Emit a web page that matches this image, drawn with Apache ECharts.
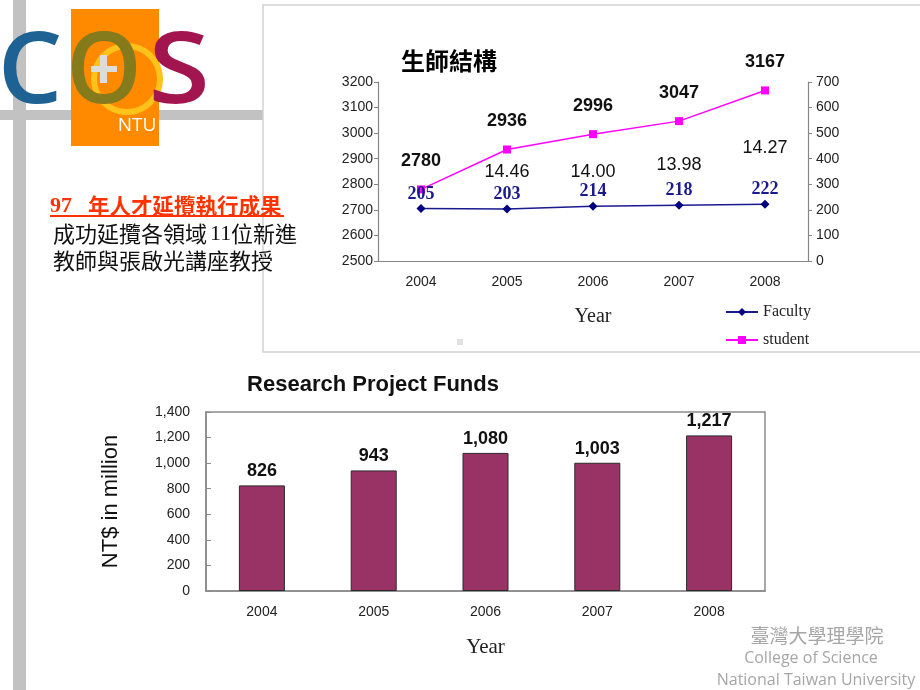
<!DOCTYPE html>
<html><head><meta charset="utf-8">
<script src="https://cdn.jsdelivr.net/npm/echarts@6/dist/echarts.min.js"></script>
<style>html,body{margin:0;padding:0;background:#fff}#c{width:920px;height:690px}</style>
</head><body><div id="c"></div>
<script>
// ---- data ----
const years = ['2004', '2005', '2006', '2007', '2008'];
const students = [2780, 2936, 2996, 3047, 3167];
const faculty = [205, 203, 214, 218, 222];
const ratioYears = ['2005', '2006', '2007', '2008'];
const ratios = ['14.46', '14.00', '13.98', '14.27'];
const ratioAnchor = [2848, 2848, 2875, 2942]; // label anchor heights (left-axis units)
const funds = [826, 943, 1080, 1003, 1217];

const SANS = '"Liberation Sans", Arial, sans-serif';
const SERIF = '"Liberation Serif", "Times New Roman", serif';
const CJK = '"Noto Sans CJK TC", "Noto Sans CJK SC", sans-serif';
const LOGO = '600 100px "Open Sans", sans-serif';
const AX = '#868686';

const chart = echarts.init(document.getElementById('c'), null, {renderer: 'canvas'});

function txt(x, y, text, font, fill, align, valign, extra) {
  return Object.assign({
    type: 'text', x: x, y: y, silent: true,
    style: {text: text, font: font, fill: fill,
      align: align || 'left', verticalAlign: valign || 'middle',
      textAlign: align || 'left', textVerticalAlign: valign || 'middle'}
  }, extra || {});
}

const graphics = [
  // slide guide bars
  {type: 'rect', shape: {x: 13, y: 0, width: 13, height: 690}, style: {fill: '#c2c2c2'}, z: 0, silent: true},
  {type: 'rect', shape: {x: 0, y: 110, width: 263, height: 10}, style: {fill: '#c2c2c2'}, z: 0, silent: true},
  // logo
  {type: 'rect', shape: {x: 71, y: 9, width: 88, height: 137}, style: {fill: '#ff8a00'}, z: 1, silent: true},
  {type: 'circle', shape: {cx: 127, cy: 79, r: 33}, style: {fill: 'none', stroke: '#ffc21a', lineWidth: 6}, z: 2, silent: true},
  txt(30, 75, 'C', LOGO, '#1d6293', 'center', 'middle', {z: 3, scaleX: 1.02}),
  txt(104, 75, 'O', LOGO, '#857a1c', 'center', 'middle', {z: 3, scaleX: 0.96}),
  txt(179, 75, 'S', LOGO, '#a3154f', 'center', 'middle', {z: 3, scaleX: 1.12}),
  {type: 'rect', shape: {x: 91, y: 66, width: 26, height: 6}, style: {fill: '#dcdcdc'}, z: 4, silent: true},
  {type: 'rect', shape: {x: 100, y: 55, width: 7, height: 28}, style: {fill: '#dcdcdc'}, z: 4, silent: true},
  txt(137, 126, 'NTU', '19px "Open Sans", sans-serif', '#ffffff', 'center', 'middle', {z: 4}),
  // left text block
  txt(50, 206, '97', 'bold 22px ' + SERIF, '#ff3300', 'left', 'middle', {z: 5}),
  txt(88, 206, '年人才延攬執行成果', 'bold 21.5px ' + CJK, '#ff3300', 'left', 'middle', {z: 5}),
  {type: 'rect', shape: {x: 50, y: 215, width: 234, height: 2}, style: {fill: '#ff3300'}, z: 5, silent: true},
  txt(53, 234, '成功延攬各領域', '22px ' + CJK, '#111', 'left', 'middle', {z: 5}),
  txt(210, 234, '11', '22px ' + SERIF, '#111', 'left', 'middle', {z: 5}),
  txt(231, 234, '位新進', '22px ' + CJK, '#111', 'left', 'middle', {z: 5}),
  txt(53, 261, '教師與張啟光講座教授', '22px ' + CJK, '#111', 'left', 'middle', {z: 5}),
  // top panel frame
  {type: 'rect', shape: {x: 263, y: 5, width: 700, height: 347}, style: {fill: 'none', stroke: '#d2d2d2', lineWidth: 1.5}, z: 1, silent: true},
  {type: 'rect', shape: {x: 457, y: 339, width: 6, height: 6}, style: {fill: '#e2e2e2'}, z: 1, silent: true},
  txt(449, 61, '生師結構', 'bold 24px ' + CJK, '#000', 'center', 'middle', {z: 5}),
  // bottom chart title
  txt(373, 385, 'Research Project Funds', 'bold 22px ' + SANS, '#111', 'center', 'middle', {z: 5}),
  // footer
  txt(817, 636, '臺灣大學理學院', '19px ' + CJK, '#a6a6a6', 'center', 'middle', {z: 5}),
  txt(811, 658, 'College of Science', '16px "Open Sans", sans-serif', '#a6a6a6', 'center', 'middle', {z: 5}),
  txt(816, 680, 'National Taiwan University', '16px "Open Sans", sans-serif', '#a6a6a6', 'center', 'middle', {z: 5})
];

const option = {
  animation: false,
  backgroundColor: '#ffffff',
  graphic: {elements: graphics},
  legend: {
    data: ['Faculty', 'student'], orient: 'vertical', left: 720, top: 299,
    itemWidth: 32, itemHeight: 10, itemGap: 12,
    textStyle: {fontFamily: SERIF, fontSize: 16, color: '#222'}
  },
  grid: [
    {left: 378, top: 82, width: 430, height: 179},
    {left: 206, top: 412, width: 559, height: 179, show: true, borderColor: '#8a8a8a', borderWidth: 1.5, backgroundColor: 'transparent'}
  ],
  xAxis: [
    {type: 'category', gridIndex: 0, data: years, boundaryGap: true,
      axisLine: {lineStyle: {color: AX, width: 1.2}},
      axisTick: {inside: true, length: 4, lineStyle: {color: AX}},
      axisLabel: {fontFamily: SANS, fontSize: 14, color: '#222', margin: 14},
      name: 'Year', nameLocation: 'middle', nameGap: 46,
      nameTextStyle: {fontFamily: SERIF, fontSize: 20, color: '#222'}},
    {type: 'category', gridIndex: 1, data: years, boundaryGap: true,
      axisLine: {lineStyle: {color: '#8a8a8a', width: 1.5}},
      axisTick: {inside: true, length: 5, lineStyle: {color: '#8a8a8a'}},
      axisLabel: {fontFamily: SANS, fontSize: 14, color: '#222', margin: 14},
      name: 'Year', nameLocation: 'middle', nameGap: 46,
      nameTextStyle: {fontFamily: SERIF, fontSize: 21, color: '#222'}}
  ],
  yAxis: [
    {type: 'value', gridIndex: 0, min: 2500, max: 3200, interval: 100, position: 'left',
      axisLine: {show: true, lineStyle: {color: AX, width: 1.2}},
      axisTick: {show: true, length: 4, lineStyle: {color: AX}},
      splitLine: {show: false},
      axisLabel: {fontFamily: SANS, fontSize: 14, color: '#222', margin: 5, formatter: v => String(v)}},
    {type: 'value', gridIndex: 0, min: 0, max: 700, interval: 100, position: 'right',
      axisLine: {show: true, lineStyle: {color: AX, width: 1.2}},
      axisTick: {show: true, length: 4, lineStyle: {color: AX}},
      splitLine: {show: false},
      axisLabel: {fontFamily: SANS, fontSize: 14, color: '#222', margin: 8, formatter: v => String(v)}},
    {type: 'value', gridIndex: 1, min: 0, max: 1400, interval: 200,
      axisLine: {show: true, lineStyle: {color: '#8a8a8a', width: 1.5}},
      axisTick: {show: true, inside: true, length: 5, lineStyle: {color: '#8a8a8a'}},
      splitLine: {show: false},
      axisLabel: {fontFamily: SANS, fontSize: 14, color: '#222', margin: 16,
        formatter: v => v.toLocaleString('en-US')},
      name: 'NT$ in million', nameLocation: 'middle', nameRotate: 90, nameGap: 84,
      nameTextStyle: {fontFamily: SANS, fontSize: 22, color: '#111'}}
  ],
  series: [
    {name: 'Faculty', type: 'line', xAxisIndex: 0, yAxisIndex: 1, data: faculty,
      color: '#000080', symbol: 'diamond', symbolSize: 9, lineStyle: {width: 1.5, color: '#1a1a90'},
      label: {show: true, position: 'top', distance: 1, fontFamily: SERIF, fontWeight: 'bold', fontSize: 18, color: '#1a1a8c'},
      z: 3},
    {name: 'student', type: 'line', xAxisIndex: 0, yAxisIndex: 0, data: students,
      color: '#ff00ff', symbol: 'rect', symbolSize: 8, lineStyle: {width: 1.5, color: '#ff00ff'},
      label: {show: true, position: 'top', distance: 15, fontFamily: SANS, fontWeight: 'bold', fontSize: 18, color: '#111'},
      z: 3},
    {name: 'ratio', type: 'scatter', xAxisIndex: 0, yAxisIndex: 0, silent: true,
      data: ratioYears.map((y, i) => [y, ratioAnchor[i]]), symbolSize: 0,
      itemStyle: {opacity: 1},
      label: {show: true, position: 'inside', fontFamily: SANS, fontSize: 18, color: '#111',
        formatter: p => ratios[p.dataIndex]}},
    {name: 'Funds', type: 'bar', xAxisIndex: 1, yAxisIndex: 2, data: funds, barWidth: 46,
      itemStyle: {color: '#993366', borderColor: '#2a2a2a', borderWidth: 1},
      label: {show: true, position: 'top', distance: 5, fontFamily: SANS, fontWeight: 'bold', fontSize: 18, color: '#111',
        formatter: p => p.value.toLocaleString('en-US')}}
  ]
};
chart.setOption(option);
</script>
</body></html>
